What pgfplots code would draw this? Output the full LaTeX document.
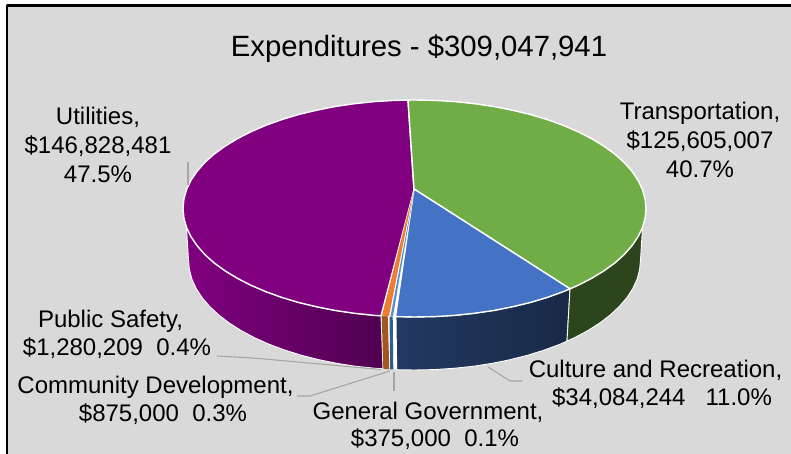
\documentclass[border=0pt]{standalone}
\usepackage{fontspec}
\setmainfont{Liberation Sans}
\usepackage{pgfplots}
\pgfplotsset{compat=1.18}

\definecolor{chartbg}{HTML}{D9D9D9}
\definecolor{leader}{HTML}{A6A6A6}
\definecolor{greentop}{HTML}{70AD47}
\definecolor{bluetop}{HTML}{4472C4}
\definecolor{purpletop}{HTML}{800080}
\definecolor{orangetop}{HTML}{ED7D31}
\definecolor{thintop}{HTML}{5B8FD0}
\definecolor{brownside}{HTML}{A5561F}
\definecolor{thinside}{HTML}{2F5F90}

\tikzset{
    side/.style={draw=white, line width=0.9pt},
    top/.style={draw=white, line width=1.4pt},
    lead/.style={draw=leader, line width=1.1pt},
    lab/.style={font=\fontsize{24}{29}\selectfont, align=center, text=black, inner sep=0pt},
    line/.style={lab, anchor=base},
}

\begin{document}
\begin{tikzpicture}
\begin{axis}[
    scale only axis, width=791pt, height=454pt,
    xmin=0, xmax=791, ymin=0, ymax=454, y dir=reverse,
    hide axis, no markers,
    every axis plot/.append style={line join=round},
]
% frame
\addplot[fill=white, draw=none] coordinates {(0,0)(791,0)(791,454)(0,454)} --cycle;
\addplot[fill=chartbg, draw=none] coordinates {(7,6)(791,6)(791,454)(7,454)} --cycle;
\addplot[draw=black, line width=2.6pt] coordinates {(7,454)(7,5.5)(791,5.5)};

% side walls
\addplot[side, left color=purpletop, right color=purpletop!62!black] coordinates {
(186.5,227.3)(190.9,236.6)(197.0,245.6)(204.7,254.4)(214.0,262.8)(224.9,270.7)(237.2,278.2)
(250.8,285.2)(265.7,291.6)(281.7,297.4)(298.7,302.5)(316.7,306.8)(335.3,310.5)(354.6,313.3)
(374.3,315.4)(381,315.8)(383,368.8)(375.3,368.3)(356.0,366.3)(337.2,363.4)(319.0,359.7)
(301.5,355.3)(284.9,350.1)(269.2,344.3)(254.7,337.8)(241.4,330.7)(229.4,323.1)(218.8,315.0)
(209.7,306.5)(202.1,297.6)(196.2,288.5)(191.9,279.1)(189.4,269.6)(188.5,260)} --cycle;
\addplot[fill=white, draw=none] coordinates {(381,315.8)(396,316.6)(396.7,369.6)(383,368.8)} --cycle;
\addplot[fill=brownside, draw=none] coordinates {(381.7,315.9)(387.7,316.2)(389.3,369.2)(383.3,368.9)} --cycle;
\addplot[fill=thinside, draw=none] coordinates {(389.5,316.3)(392.7,316.5)(393.3,369.5)(390.2,369.3)} --cycle;
\addplot[side, left color=bluetop!50!black, right color=bluetop!36!black] coordinates {
(396,316.7)(414.5,317.0)(434.7,316.6)(454.7,315.4)(474.4,313.3)(493.7,310.5)(512.3,306.8)
(530.3,302.5)(547.3,297.4)(563.3,291.6)(570,288.8)(567,341.1)(559.8,344.3)(544.1,350.1)
(527.5,355.3)(510,359.7)(491.8,363.4)(473.0,366.3)(453.7,368.3)(434.2,369.6)(414.5,370)(396.7,369.7)} --cycle;
\addplot[side, fill=greentop!40!black] coordinates {
(570,288.8)(578.2,285.2)(591.8,278.2)(604.1,270.7)(615.0,262.8)(624.3,254.4)(632.0,245.6)
(638.1,236.6)(642.5,227.3)(640.5,260)(639.6,269.6)(637.1,279.1)(632.8,288.5)(626.9,297.6)
(619.3,306.5)(610.2,315.0)(599.6,323.1)(587.6,330.7)(574.3,337.8)(567,341.1)} --cycle;

% top face: Utilities
\addplot[top, fill=purpletop] coordinates {
(414,190)(381,315.8)(374.3,315.4)(354.6,313.3)(335.3,310.5)(316.7,306.8)(298.7,302.5)(281.7,297.4)
(265.7,291.6)(250.8,285.2)(237.2,278.2)(224.9,270.7)(214.0,262.8)(204.7,254.4)(197.0,245.6)
(190.9,236.6)(186.5,227.3)(183.9,218.0)(183.0,208.5)(183.9,199.0)(186.5,189.7)(190.9,180.4)
(197.0,171.4)(204.7,162.6)(214.0,154.2)(224.9,146.3)(237.2,138.8)(250.8,131.8)(265.7,125.4)
(281.7,119.6)(298.7,114.5)(316.7,110.2)(335.3,106.5)(354.6,103.7)(374.3,101.6)(394.3,100.4)(408,100.1)} --cycle;
% Transportation
\addplot[top, fill=greentop] coordinates {
(414,189)(408,100.1)(414.5,100.0)(434.7,100.4)(454.7,101.6)(474.4,103.7)(493.7,106.5)(512.3,110.2)
(530.3,114.5)(547.3,119.6)(563.3,125.4)(578.2,131.8)(591.8,138.8)(604.1,146.3)(615.0,154.2)
(624.3,162.6)(632.0,171.4)(638.1,180.4)(642.5,189.7)(645.1,199.0)(646.0,208.5)(645.1,218.0)
(642.5,227.3)(638.1,236.6)(632.0,245.6)(624.3,254.4)(615.0,262.8)(604.1,270.7)(591.8,278.2)
(578.2,285.2)(570,288.8)} --cycle;
% Culture and Recreation
\addplot[top, fill=bluetop] coordinates {
(414,189)(570,288.8)(563.3,291.6)(547.3,297.4)(530.3,302.5)(512.3,306.8)(493.7,310.5)(474.4,313.3)
(454.7,315.4)(434.7,316.6)(414.5,317.0)(395.5,316.6)} --cycle;
% thin slices
\addplot[fill=white, draw=none] coordinates {(414,189)(381,315.8)(395.5,316.6)} --cycle;
\addplot[fill=orangetop, draw=none] coordinates {(413.5,191)(382,315.6)(389,316)} --cycle;
\addplot[fill=thintop, draw=none] coordinates {(414,192)(390.5,316)(393,316.3)} --cycle;

% leader lines
\addplot[lead] coordinates {(188,162)(188,185)};
\addplot[lead] coordinates {(217,356)(253,358)(381,369.5)};
\addplot[lead] coordinates {(297,396)(310,396)(390,371)};
\addplot[lead] coordinates {(394,372)(394,391)};
\addplot[lead] coordinates {(488,367)(510,381)(522,381)};

% labels
\node[lab, font=\fontsize{29.3}{36}\selectfont] at (axis cs:419,48.5) {Expenditures - \$309,047,941};
\node[lab] at (axis cs:700,139.5) {Transportation,\\\$125,605,007\\40.7\%};
\node[lab] at (axis cs:98,144.5) {Utilities,\\\$146,828,481\\47.5\%};
\node[line] at (axis cs:110.5,327) {Public Safety,};
\node[line] at (axis cs:117,355) {\$1,280,209~~0.4\%};
\node[line] at (axis cs:155.5,393) {Community Development,};
\node[line] at (axis cs:163,421.5) {\$875,000~~0.3\%};
\node[line] at (axis cs:428,419) {General Government,};
\node[line] at (axis cs:435,446.5) {\$375,000~~0.1\%};
\node[line] at (axis cs:655.5,377) {Culture and Recreation,};
\node[line] at (axis cs:662,405.5) {\$34,084,244~~~11.0\%};
\end{axis}
\end{tikzpicture}
\end{document}
